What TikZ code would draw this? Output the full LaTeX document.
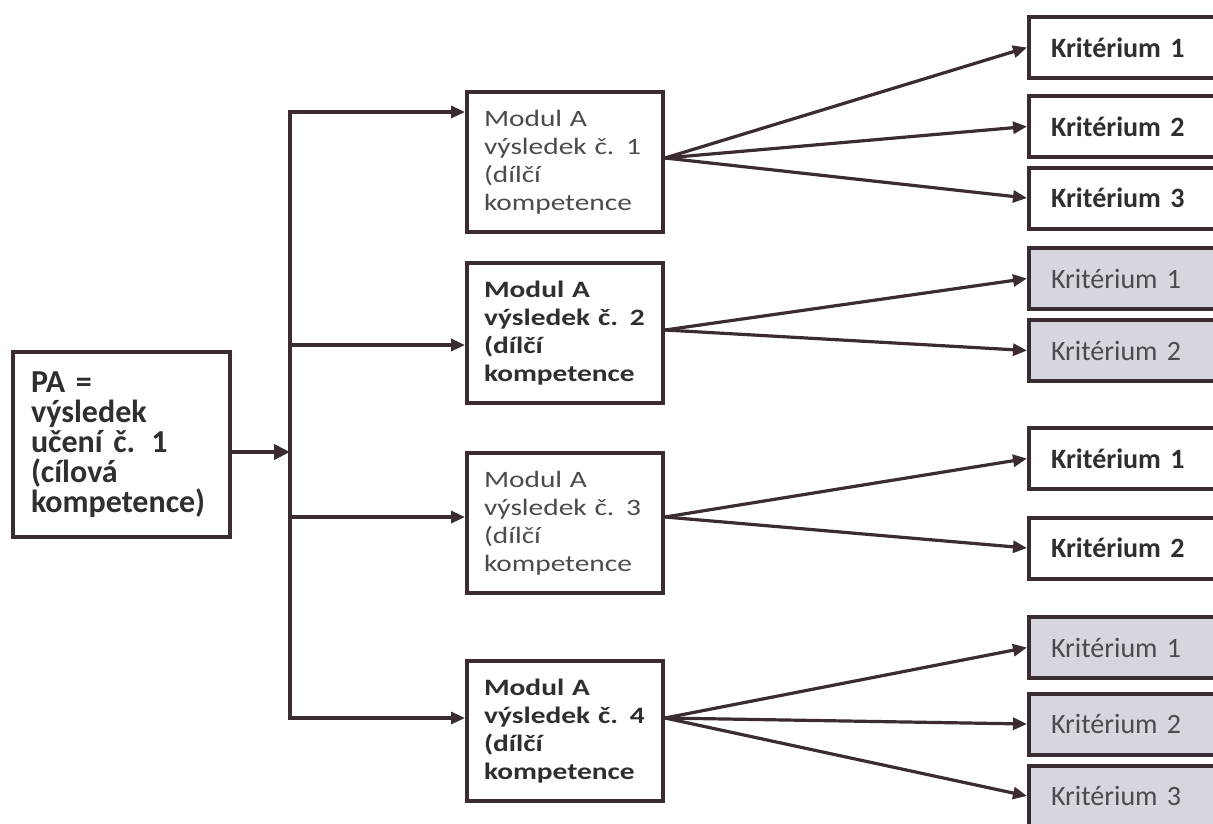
\documentclass[tikz,border=0pt]{standalone}
\usepackage{fontspec}
\setmainfont[WordSpace=0.8]{Carlito}
\newfontfamily\modfont[FakeStretch=1.25,WordSpace=0.7]{Carlito}
\usetikzlibrary{arrows.meta}
\definecolor{linecol}{RGB}{58,44,50}
\definecolor{txtdark}{RGB}{48,46,48}
\definecolor{txtlight}{RGB}{75,75,78}
\definecolor{critgray}{RGB}{214,214,222}
\begin{document}
\begin{tikzpicture}[x=1pt,y=-1pt,
  box/.style={draw=linecol, line width=4pt, rectangle, inner ysep=0pt, align=left},
  pabox/.style={box, minimum width=217pt, minimum height=185pt, text width=181pt, inner xsep=18pt,
     font=\fontsize{32}{30}\selectfont\bfseries, text=txtdark},
  modbox/.style={box, minimum width=196pt, minimum height=140pt, text width=162pt, inner xsep=17pt,
     font=\modfont\fontsize{23.5}{28}\selectfont, text=txtlight},
  modbold/.style={modbox, font=\modfont\fontsize{23.5}{28}\selectfont\bfseries, text=txtdark},
  critbox/.style={box, minimum width=204pt, minimum height=61pt, text width=160pt, inner xsep=22pt,
     font=\fontsize{28}{32}\selectfont\bfseries, text=txtdark, fill=white},
  critgraybox/.style={critbox, fill=critgray, font=\fontsize{28}{32}\selectfont, text=txtlight},
  ln/.style={draw=linecol, line width=3.2pt, line cap=rect},
  arr/.style={draw=linecol, line width=3.2pt, -{Triangle[length=14pt,width=12pt]}},
  bigarr/.style={draw=linecol, line width=4.5pt, -{Triangle[length=16pt,width=15pt]}}
]
\useasboundingbox (0,0) rectangle (1213,823);
\clip (0,0) rectangle (1213,823);
\fill[white] (0,0) rectangle (1213,823);

% main box
\node[pabox] (pa) at (121.5,444.5) {PA =\\výsledek\\učení č. 1\\(cílová\\kompetence)};

% modules
\node[modbox] (a1) at (565,162) {Modul A\\výsledek č. 1\\(dílčí\\kompetence};
\node[modbold] (a2) at (565,333) {Modul A\\výsledek č. 2\\(dílčí\\kompetence};
\node[modbox] (a3) at (565,523) {Modul A\\výsledek č. 3\\(dílčí\\kompetence};
\node[modbold] (a4) at (565,731) {Modul A\\výsledek č. 4\\(dílčí\\kompetence};

% criteria
\node[critbox] (c11) at (1131,47.5) {Kritérium 1};
\node[critbox] (c12) at (1131,126.5) {Kritérium 2};
\node[critbox] (c13) at (1131,198) {Kritérium 3};
\node[critgraybox] (c21) at (1131,278.5) {Kritérium 1};
\node[critgraybox] (c22) at (1131,350.5) {Kritérium 2};
\node[critbox] (c31) at (1131,458.5) {Kritérium 1};
\node[critbox] (c32) at (1131,548) {Kritérium 2};
\node[critgraybox] (c41) at (1131,647.5) {Kritérium 1};
\node[critgraybox] (c42) at (1131,724) {Kritérium 2};
\node[critgraybox] (c43) at (1131,796) {Kritérium 3};

% trunk
\coordinate (t1) at (290,112);
\coordinate (t2) at (290,345);
\coordinate (t3) at (290,517);
\coordinate (t4) at (290,718);
\coordinate (tm) at (290,452);
\draw[ln] (t1) -- (t4);
\draw[arr] (t1) -- (t1 -| a1.west);
\draw[arr] (t2) -- (t2 -| a2.west);
\draw[arr] (t3) -- (t3 -| a3.west);
\draw[arr] (t4) -- (t4 -| a4.west);
\draw[bigarr] (pa.east |- tm) -- (tm);

% fans
\draw[arr] ([yshift=4pt]a1.east) -- (c11.west);
\draw[arr] ([yshift=4pt]a1.east) -- (c12.west);
\draw[arr] ([yshift=4pt]a1.east) -- (c13.west);
\draw[arr] ([yshift=3pt]a2.east) -- (c21.west);
\draw[arr] ([yshift=3pt]a2.east) -- (c22.west);
\draw[arr] ([yshift=6pt]a3.east) -- (c31.west);
\draw[arr] ([yshift=6pt]a3.east) -- (c32.west);
\draw[arr] ([yshift=13pt]a4.east) -- (c41.west);
\draw[arr] ([yshift=13pt]a4.east) -- (c42.west);
\draw[arr] ([yshift=13pt]a4.east) -- (c43.west);
\end{tikzpicture}
\end{document}
